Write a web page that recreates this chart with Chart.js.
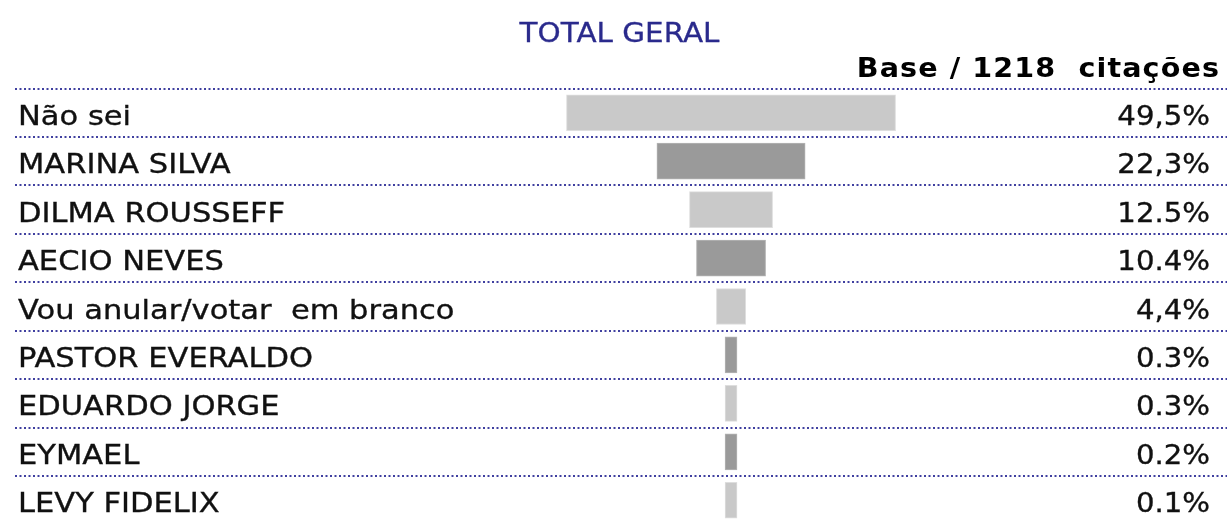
<!DOCTYPE html>
<html>
<head>
<meta charset="utf-8">
<script src="https://cdn.jsdelivr.net/npm/chart.js@4"></script>
<style>
  html, body { margin: 0; padding: 0; background: #ffffff; overflow: hidden; }
  #wrap { width: 1227px; height: 519px; overflow: hidden; }
  canvas { display: block; }
</style>
</head>
<body>
<div id="wrap"><canvas id="c" width="1227" height="530"></canvas></div>
<script>
// ---- data ----
const chartTitle = 'TOTAL GERAL';
const baseLabel = 'Base / 1218  citações';
const categories = [
  'Não sei',
  'MARINA SILVA',
  'DILMA ROUSSEFF',
  'AECIO NEVES',
  'Vou anular/votar  em branco',
  'PASTOR EVERALDO',
  'EDUARDO JORGE',
  'EYMAEL',
  'LEVY FIDELIX'
];
const values = [49.5, 22.3, 12.5, 10.4, 4.4, 0.3, 0.3, 0.2, 0.1];
const valueLabels = ['49,5%', '22,3%', '12.5%', '10.4%', '4,4%', '0.3%', '0.3%', '0.2%', '0.1%'];

// ---- styling ----
const LIGHT = '#c9c9c9', DARK = '#9a9a9a';
const LIGHT_EDGE = '#dedede', DARK_EDGE = '#b4b4b4';
const MIN_BAR = 1.8;      // smallest visible bar width, in % units
const X_MIN = -107.7, X_MAX = 74.6;

const barColors = categories.map((_, i) => i % 2 === 0 ? LIGHT : DARK);
const edgeColors = categories.map((_, i) => i % 2 === 0 ? LIGHT_EDGE : DARK_EDGE);
// funnel bars centred on zero
const barData = values.map(v => { const h = Math.max(v, MIN_BAR) / 2; return [-h, h]; });

function drawStretched(ctx, text, x, y, sx, align, stroke) {
  ctx.save();
  ctx.translate(x, y);
  ctx.scale(sx, 1);
  ctx.textAlign = align;
  ctx.fillText(text, 0, 0);
  if (stroke) { ctx.lineWidth = stroke; ctx.strokeStyle = ctx.fillStyle; ctx.strokeText(text, 0, 0); }
  ctx.restore();
}

const textPlugin = {
  id: 'texts',
  afterDraw(chart) {
    const ctx = chart.ctx;
    const yScale = chart.scales.y;
    ctx.save();
    ctx.textBaseline = 'alphabetic';
    // title
    ctx.fillStyle = '#2a2a8c';
    ctx.font = '27px "DejaVu Sans", Verdana, sans-serif';
    drawStretched(ctx, chartTitle, 619.5, 42, 1.09, 'center', 0.3);
    // base label
    ctx.fillStyle = '#000000';
    ctx.font = 'bold 26px "DejaVu Sans", Verdana, sans-serif';
    try { ctx.letterSpacing = '1px'; } catch (e) {}
    drawStretched(ctx, baseLabel, 1220, 77, 1.1, 'right', 0);
    try { ctx.letterSpacing = '0px'; } catch (e) {}
    // rows
    ctx.fillStyle = '#111111';
    ctx.font = '27px "DejaVu Sans", Verdana, sans-serif';
    categories.forEach((cat, i) => {
      const y = yScale.getPixelForValue(i) + 12;
      drawStretched(ctx, cat, 18, y, 1.13, 'left', 0.35);
      drawStretched(ctx, valueLabels[i], 1210, y, 1.08, 'right', 0.35);
    });
    ctx.restore();
  }
};

new Chart(document.getElementById('c'), {
  type: 'bar',
  data: {
    labels: categories,
    datasets: [{
      data: barData,
      backgroundColor: barColors,
      borderColor: edgeColors,
      borderWidth: 1,
      borderSkipped: false,
      barThickness: 36
    }]
  },
  options: {
    indexAxis: 'y',
    responsive: false,
    devicePixelRatio: 1,
    animation: false,
    layout: { padding: { top: 88.5, bottom: 5.5, left: 15, right: 0 } },
    plugins: { legend: { display: false }, tooltip: { enabled: false }, title: { display: false } },
    scales: {
      x: { display: false, min: X_MIN, max: X_MAX },
      y: {
        type: 'category',
        display: true,
        ticks: { display: false },
        border: { display: false, dash: [2, 2.5] },
        grid: { color: '#4040a0', lineWidth: 2, offset: true, drawTicks: false }
      }
    }
  },
  plugins: [textPlugin]
});
</script>
</body>
</html>
